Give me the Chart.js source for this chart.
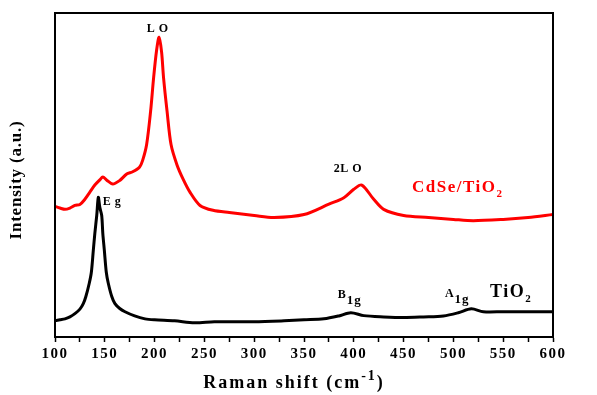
<!DOCTYPE html>
<html>
<head>
<meta charset="utf-8">
<script src="https://cdn.jsdelivr.net/npm/chart.js@4"></script>
<style>
  body { margin: 0; background: #fff; }
  #wrap { width: 597px; height: 395px; }
</style>
</head>
<body>
<div id="wrap"><canvas id="ramanChart" width="597" height="395"></canvas></div>
<script>
// CdSe/TiO2 spectrum (red)
const cdseShift = [100, 105, 110, 115, 120, 125, 130, 135, 140, 145, 148, 152, 158, 165, 172, 178, 185, 188, 192, 196, 199, 202, 204.5, 207, 209, 212.5, 216.5, 222.5, 228.5, 235.5, 245.6, 258.6, 275, 300, 320, 350, 375, 390, 400, 408, 420, 430, 450, 475, 500, 520, 550, 575, 600];
const cdseIntensity = [40.3, 39.8, 39.4, 39.8, 40.6, 40.9, 42.5, 44.7, 46.9, 48.5, 49.4, 48.4, 47.2, 48.3, 50.3, 51.0, 52.5, 54.5, 59.4, 69.7, 80, 88.5, 92.5, 88, 80, 69.7, 59.4, 53.1, 48.8, 44.7, 40.6, 39.1, 38.4, 37.5, 36.9, 37.8, 41, 43, 45.6, 46.9, 42.5, 39.4, 37.5, 36.9, 36.3, 35.9, 36.3, 36.9, 37.8];

// TiO2 spectrum (black)
const tio2Shift = [100, 105, 110, 115, 120, 125, 128.4, 131, 134.4, 136.5, 138.5, 140, 141.9, 143.5, 145, 146.9, 148, 149.5, 151.5, 153.5, 157, 160.2, 165, 170.3, 180, 190.4, 200, 220, 240, 260, 300, 330, 350, 370, 385, 397, 410, 430, 450, 470, 490, 505, 518, 530, 550, 575, 600];
const tio2Intensity = [5.0, 5.3, 5.6, 6.2, 7.2, 8.6, 10.3, 12.5, 16.6, 20, 26.9, 32, 37.5, 43.1, 40, 37.5, 32, 26.9, 20, 16.6, 12.5, 10.3, 8.8, 7.8, 6.5, 5.6, 5.3, 5.0, 4.4, 4.7, 4.7, 5.0, 5.3, 5.6, 6.5, 7.5, 6.6, 6.2, 6.0, 6.2, 6.5, 7.5, 8.7, 7.8, 7.8, 7.8, 7.8];

const xTicks = [100, 150, 200, 250, 300, 350, 400, 450, 500, 550, 600];

const serif = '"Liberation Serif", "Times New Roman", serif';

function toPoints(xs, ys) {
    return xs.map((x, i) => ({ x: x, y: ys[i] }));
}

// text with a subscript / superscript part
function drawScript(ctx, x, y, parts, align) {
    let total = 0;
    parts.forEach(p => {
        ctx.font = p.font;
        total += ctx.measureText(p.text).width;
    });
    let cx = align === 'center' ? x - total / 2 : x;
    parts.forEach(p => {
        ctx.font = p.font;
        ctx.fillText(p.text, cx, y + (p.dy || 0));
        cx += ctx.measureText(p.text).width;
    });
}

const labelsPlugin = {
    id: 'ramanLabels',
    beforeDraw(chart) {
        chart.ctx.letterSpacing = '1.5px';
    },
    afterDraw(chart) {
        const ctx = chart.ctx;
        const a = chart.chartArea;
        const xs = chart.scales.x;
        const ys = chart.scales.y;
        ctx.save();
        // frame
        ctx.strokeStyle = '#000';
        ctx.lineWidth = 2;
        ctx.strokeRect(a.left, a.top, a.right - a.left, a.bottom - a.top);

        ctx.textBaseline = 'alphabetic';
        ctx.textAlign = 'left';
        ctx.fillStyle = '#000';
        ctx.letterSpacing = '0.5px';
        const small = 'bold 12px ' + serif;
        const sub = 'bold 11px ' + serif;
        drawScript(ctx, xs.getPixelForValue(203), ys.getPixelForValue(94), [{ text: 'L O', font: small }], 'center');
        drawScript(ctx, xs.getPixelForValue(148), ys.getPixelForValue(40.6), [{ text: 'E g', font: small }], 'left');
        drawScript(ctx, xs.getPixelForValue(394), ys.getPixelForValue(51), [{ text: '2L O', font: small }], 'center');
        ctx.letterSpacing = '1px';
        drawScript(ctx, xs.getPixelForValue(384), ys.getPixelForValue(11.9), [
            { text: 'B', font: small },
            { text: '1g', font: 'bold 13px ' + serif, dy: 6 }
        ], 'left');
        drawScript(ctx, xs.getPixelForValue(491.5), ys.getPixelForValue(12.5), [
            { text: 'A', font: small },
            { text: '1g', font: 'bold 13px ' + serif, dy: 6 }
        ], 'left');

        ctx.letterSpacing = '1.5px';
        ctx.fillStyle = '#ff0000';
        drawScript(ctx, xs.getPixelForValue(458.4), ys.getPixelForValue(44.7), [
            { text: 'CdSe/TiO', font: 'bold 17px ' + serif },
            { text: '2', font: sub, dy: 5 }
        ], 'left');
        ctx.fillStyle = '#000';
        drawScript(ctx, xs.getPixelForValue(536.7), ys.getPixelForValue(12.5), [
            { text: 'TiO', font: 'bold 18px ' + serif },
            { text: '2', font: sub, dy: 5 }
        ], 'left');

        // axis titles
        ctx.letterSpacing = '2px';
        drawScript(ctx, 294, 388, [
            { text: 'Raman shift (cm', font: 'bold 18px ' + serif },
            { text: '-1', font: 'bold 14px ' + serif, dy: -8 },
            { text: ')', font: 'bold 18px ' + serif }
        ], 'center');
        ctx.letterSpacing = '0.8px';
        ctx.translate(21, 180);
        ctx.rotate(-Math.PI / 2);
        ctx.textAlign = 'center';
        ctx.font = 'bold 17px ' + serif;
        ctx.fillText('Intensity (a.u.)', 0, 0);
        ctx.restore();
        ctx.letterSpacing = '0px';
    }
};

const ramanCtx = document.getElementById('ramanChart').getContext('2d');
new Chart(ramanCtx, {
    type: 'line',
    data: {
        datasets: [
            {
                label: 'CdSe/TiO2',
                data: toPoints(cdseShift, cdseIntensity),
                borderColor: '#ff0000',
                borderWidth: 3,
                pointRadius: 0,
                tension: 0.3
            },
            {
                label: 'TiO2',
                data: toPoints(tio2Shift, tio2Intensity),
                borderColor: '#000000',
                borderWidth: 3,
                pointRadius: 0,
                tension: 0.3
            }
        ]
    },
    options: {
        responsive: false,
        animation: false,
        layout: {
            padding: { left: 55, right: 44, top: 13, bottom: 29 }
        },
        plugins: {
            legend: { display: false },
            tooltip: { enabled: false }
        },
        scales: {
            x: {
                type: 'linear',
                min: 100,
                max: 600,
                grid: {
                    drawOnChartArea: false,
                    tickLength: 5,
                    tickWidth: 1.5,
                    tickColor: '#000'
                },
                border: { color: '#000', width: 2 },
                ticks: {
                    stepSize: 25,
                    autoSkip: false,
                    maxRotation: 0,
                    padding: 3,
                    color: '#000',
                    font: { family: serif, size: 15, weight: 'bold' },
                    callback: v => xTicks.includes(v) ? String(v) : ''
                }
            },
            y: {
                display: false,
                min: 0,
                max: 100
            }
        }
    },
    plugins: [labelsPlugin]
});
</script>
</body>
</html>
